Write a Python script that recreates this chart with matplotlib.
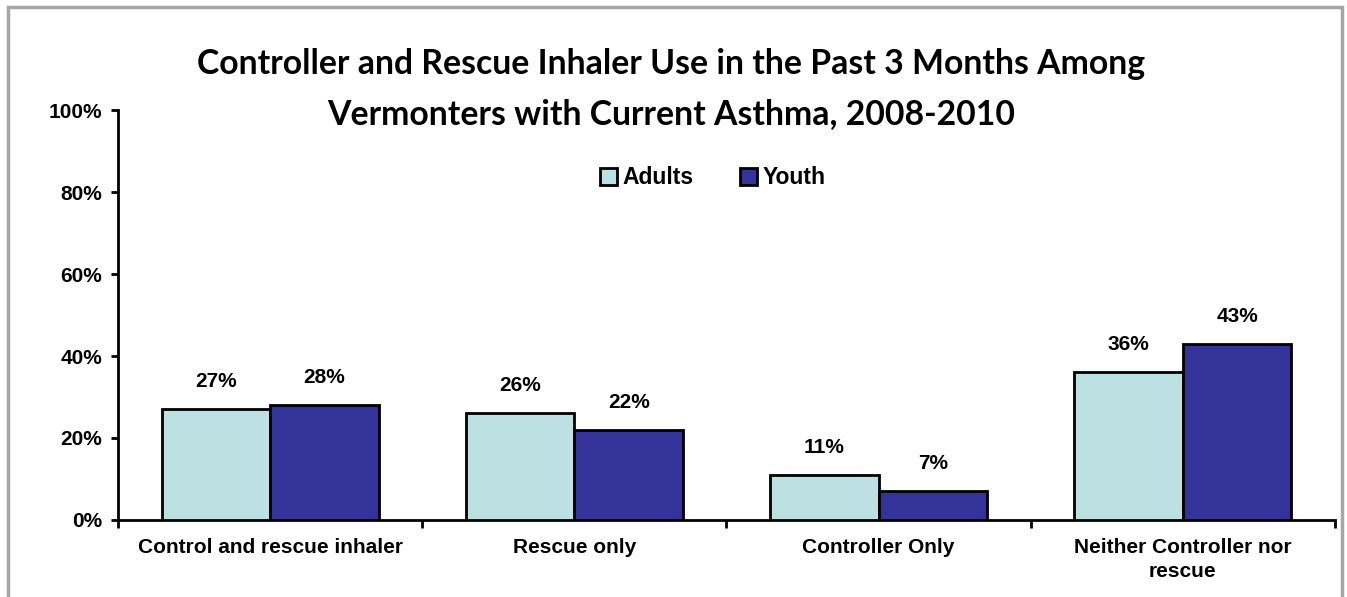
import matplotlib
matplotlib.use("Agg")
import matplotlib.pyplot as plt
from matplotlib.patches import Rectangle
import numpy as np

categories = ["Control and rescue inhaler", "Rescue only", "Controller Only",
              "Neither Controller nor\nrescue"]
adults = [27, 26, 11, 36]
youth = [28, 22, 7, 43]
series_names = ["Adults", "Youth"]
yticks = [0, 20, 40, 60, 80, 100]

ADULT_C = "#bde0e2"
YOUTH_C = "#333399"
LABEL_FONT = "Liberation Sans"

fig = plt.figure(figsize=(13.47, 5.97), dpi=100)
ax = fig.add_axes([0.0876, 0.129, 0.9034, 0.6867])

x = np.arange(len(categories))
w = 0.357
b1 = ax.bar(x - w / 2, adults, w, color=ADULT_C, edgecolor="black", linewidth=2,
            label=series_names[0], zorder=3)
b2 = ax.bar(x + w / 2, youth, w, color=YOUTH_C, edgecolor="black", linewidth=2,
            label=series_names[1], zorder=3)

for bars, vals in ((b1, adults), (b2, youth)):
    for r, v in zip(bars, vals):
        ax.annotate(f"{v}%", (r.get_x() + r.get_width() / 2, v),
                    xytext=(0, 13), textcoords="offset points",
                    ha="center", va="bottom", fontsize=15, fontweight="bold",
                    family=LABEL_FONT)

ax.set_xlim(-0.5, len(categories) - 0.5)
ax.set_ylim(0, 100)
ax.set_yticks(yticks)
ax.set_yticklabels([f"{t}%" for t in yticks], fontsize=15, fontweight="bold",
                   family=LABEL_FONT)

# category boundaries get the tick marks, names sit between them
ax.set_xticks(np.arange(len(categories) + 1) - 0.5)
ax.set_xticklabels([])
ax.set_xticks(x, minor=True)
ax.set_xticklabels(categories, minor=True, fontsize=15, fontweight="bold",
                   family=LABEL_FONT, linespacing=1.35)
ax.tick_params(axis="x", which="minor", length=0, pad=13)
ax.tick_params(axis="x", which="major", length=6, width=2, direction="out")
ax.tick_params(axis="y", length=5, width=2, direction="out", pad=6.5)

for s in ("top", "right"):
    ax.spines[s].set_visible(False)
for s in ("left", "bottom"):
    ax.spines[s].set_linewidth(2)

fig.text(0.4985, 0.851, "Controller and Rescue Inhaler Use in the Past 3 Months Among\n"
         "Vermonters with Current Asthma, 2008-2010",
         ha="center", va="center", fontsize=24.3, fontweight="bold", family="Lato",
         linespacing=1.72)

leg = fig.legend(handles=[b1, b2], loc="center", bbox_to_anchor=(0.529, 0.702),
                 ncol=2, frameon=False, handlelength=0.75, handleheight=0.75,
                 handletextpad=0.25, columnspacing=2.0,
                 prop={"family": LABEL_FONT, "weight": "bold", "size": 16.5})

# grey frame around the chart area
fig.add_artist(Rectangle((0.0059, -0.05), 0.9905, 1.038, transform=fig.transFigure,
                         fill=False, edgecolor="#a6a6a6", linewidth=2.5))

fig.savefig("out.png", dpi=100)
